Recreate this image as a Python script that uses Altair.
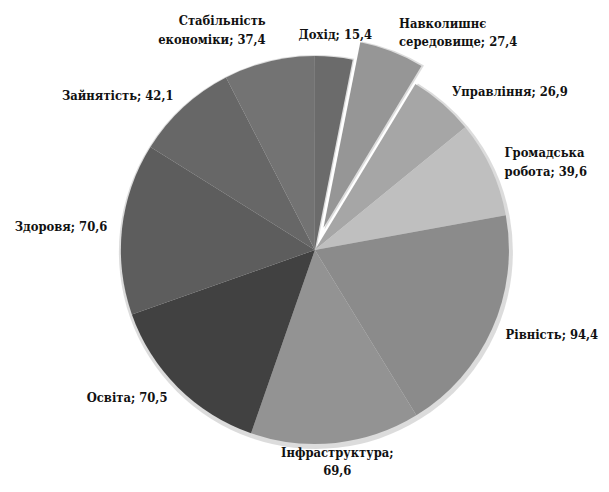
import math
import json
import altair as alt
import pandas as pd

categories = ["Дохід", "Навколишнє середовище", "Управління", "Громадська робота",
              "Рівність", "Інфраструктура", "Освіта", "Здоровя", "Зайнятість",
              "Стабільність економіки"]
values = [15.4, 27.4, 26.9, 39.6, 94.4, 69.6, 70.5, 70.6, 42.1, 37.4]
labels = ["Дохід; 15,4", "Навколишнє\nсередовище; 27,4", "Управління; 26,9",
          "Громадська\nробота; 39,6", "Рівність; 94,4", "Інфраструктура;\n69,6",
          "Освіта; 70,5", "Здоровя; 70,6", "Зайнятість; 42,1",
          "Стабільність\nекономіки; 37,4"]
exploded = ["Навколишнє середовище"]
colors = ["#6b6b6b", "#969696", "#a6a6a6", "#bfbfbf", "#8b8b8b",
          "#939393", "#414141", "#5d5d5d", "#676767", "#737373"]

LH = 19
total = sum(values)
rows = []
cum = 0.0
for i, (c, v, l) in enumerate(zip(categories, values, labels)):
    start, end = cum, cum + v
    mid = (start + end) / 2
    deg = mid / total * 360
    if deg < 10 or deg > 350 or abs(deg - 180) < 10:
        align = "center"
    elif deg < 180:
        align = "left"
    else:
        align = "right"
    if deg < 20 or deg > 340:
        baseline = "bottom"
    elif abs(deg - 180) < 20:
        baseline = "top"
    else:
        baseline = "middle"
    n = l.count("\n") + 1
    rows.append(dict(category=c, value=v, label=l, start=start, end=end, mid=mid,
                     grp=f"{align}|{baseline}|{int(c in exploded)}|{n}"))
    cum = end
df = pd.DataFrame(rows)

CX, CY = 310, 242
R = 196
R_EX = 191
OFF = 24
LR = 211
ex_mid = [r["mid"] for r in rows if r["category"] in exploded][0] / total * 2 * math.pi
EX_CX = CX + OFF * math.sin(ex_mid)
EX_CY = CY - OFF * math.cos(ex_mid)

theta_scale = alt.Scale(domain=[0, total], range=[0, 2 * math.pi])
color = alt.Color("category:N", scale=alt.Scale(domain=categories, range=colors), legend=None)
EXPL = json.dumps(exploded, ensure_ascii=False)
not_ex = f"indexof({EXPL}, datum.category) < 0"
is_ex = f"indexof({EXPL}, datum.category) >= 0"

base = alt.Chart(df)
theta = alt.Theta("start:Q", scale=theta_scale, stack=False)
theta2 = alt.Theta2("end:Q")

layers = []
# soft shadows
layers.append(base.transform_filter(not_ex).mark_arc(radius=R + 3, color="#9a9a9a", opacity=0.35)
              .encode(theta=theta, theta2=theta2, x=alt.value(CX + 1), y=alt.value(CY + 2)))
layers.append(base.transform_filter(is_ex).mark_arc(radius=R_EX + 3, color="#9a9a9a", opacity=0.35)
              .encode(theta=theta, theta2=theta2, x=alt.value(EX_CX + 1), y=alt.value(EX_CY + 2)))
# slices
layers.append(base.transform_filter(not_ex).mark_arc(radius=R)
              .encode(theta=theta, theta2=theta2, color=color, x=alt.value(CX), y=alt.value(CY)))
layers.append(base.transform_filter(is_ex).mark_arc(radius=R_EX)
              .encode(theta=theta, theta2=theta2, color=color, x=alt.value(EX_CX), y=alt.value(EX_CY)))

# labels
for grp in sorted(set(df["grp"])):
    align, baseline, ex, n = grp.split("|")
    n = int(n)
    cx, cy = (EX_CX, EX_CY) if ex == "1" else (CX, CY)
    if baseline == "bottom":
        dy = -(n - 1) * LH
    elif baseline == "middle":
        dy = -(n - 1) * LH / 2
    else:
        dy = -11
    layers.append(
        base.transform_filter(alt.datum.grp == grp)
        .mark_text(align=align, baseline=baseline, radius=LR, dy=dy,
                   font="'DejaVu Serif Condensed', 'DejaVu Serif', serif",
                   fontSize=13, fontWeight="bold",
                   lineBreak="\n", lineHeight=LH, color="#111111")
        .encode(theta=alt.Theta("mid:Q", scale=theta_scale, stack=False),
                text="label:N", x=alt.value(cx), y=alt.value(cy))
    )

chart = alt.layer(*layers).properties(
    width=599, height=476, autosize=alt.AutoSizeParams(type="none"), padding=0,
    background="white"
).configure_view(stroke=None)

chart.save("out.html", embed_options={"renderer": "svg", "actions": False})
